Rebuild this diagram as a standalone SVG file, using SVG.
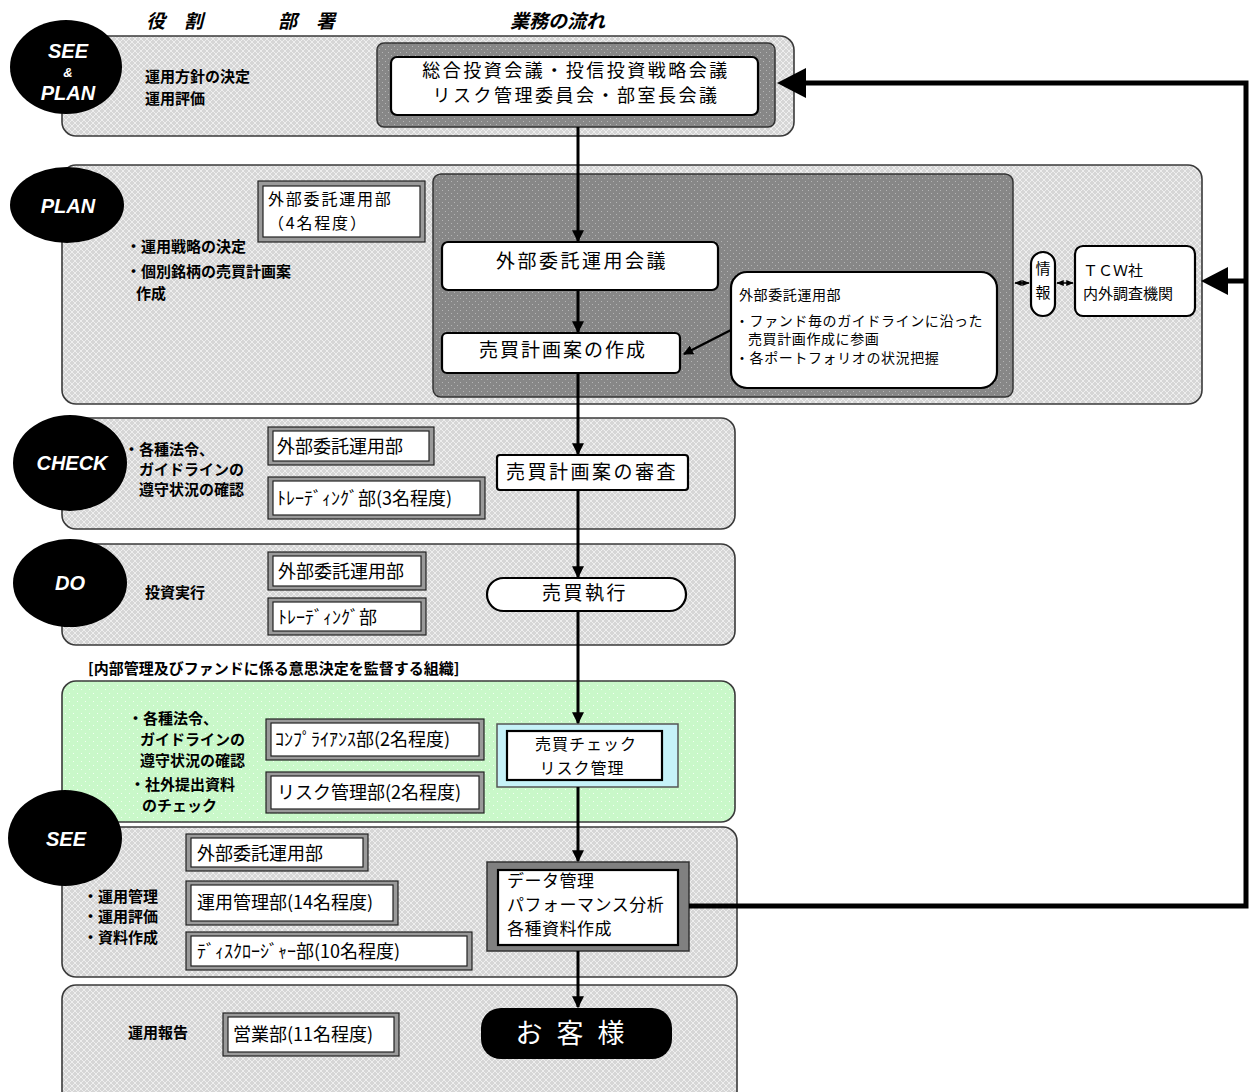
<svg xmlns="http://www.w3.org/2000/svg" width="1252" height="1092" viewBox="0 0 1252 1092">
<style>
.jp{font-family:"Noto Sans CJK JP","Liberation Sans",sans-serif;fill:#000}
.b{font-weight:bold}
.hdr{font-family:"Noto Sans CJK JP",sans-serif;font-size:19px;font-style:italic;font-weight:bold;fill:#000}
.panel{fill:url(#gp);stroke:#3a3a3a;stroke-width:1.6}
.dark{fill:url(#dp);stroke:#333;stroke-width:1.5}
.ell{fill:#000}
.et{font-family:"Liberation Sans",sans-serif;font-weight:bold;font-style:italic;fill:#fff;text-anchor:middle}
.dOut{fill:#9a9a9a;stroke:#222;stroke-width:1.2}
.dIn{fill:#fff;stroke:#222;stroke-width:1.2}
.flow{fill:#fff;stroke:#000;stroke-width:2.2}
.con{stroke:#000;stroke-width:3;fill:none}
.thick{stroke:#000;stroke-width:5;fill:none}
.thin{stroke:#000;stroke-width:1.5;fill:none}
</style>
<defs>
<pattern id="gp" width="6" height="6" patternUnits="userSpaceOnUse">
<rect width="6" height="6" fill="#d6d6d6"/>
<path d="M0 0L6 6M6 0L0 6" stroke="#eeeeee" stroke-width="1"/>
</pattern>
<pattern id="dp" width="6" height="6" patternUnits="userSpaceOnUse">
<rect width="6" height="6" fill="#878787"/>
<rect x="1" y="1" width="1" height="1" fill="#b5b5b5"/>
<rect x="4" y="4" width="1" height="1" fill="#b5b5b5"/>
</pattern>
<pattern id="grp" width="8" height="8" patternUnits="userSpaceOnUse">
<rect width="8" height="8" fill="#c9f8c9"/>
<rect x="1" y="1" width="1" height="1" fill="#f2fff2"/>
<rect x="5" y="5" width="1" height="1" fill="#f2fff2"/>
</pattern>
<marker id="ah" viewBox="0 0 10 10" refX="9" refY="5" markerWidth="4" markerHeight="4" orient="auto">
<path d="M0 0L10 5L0 10z" fill="#000"/>
</marker>
<marker id="sa" viewBox="0 0 10 10" refX="9" refY="5" markerWidth="5" markerHeight="5" orient="auto-start-reverse">
<path d="M0 1L10 5L0 9z" fill="#000"/>
</marker>
</defs>

<rect width="1252" height="1092" fill="#fff"/>

<!-- headers -->
<g id="headers">
<text class="hdr" x="146" y="28">役　割</text>
<text class="hdr" x="278" y="28">部　署</text>
<text class="hdr" x="510" y="28">業務の流れ</text>
</g>

<!-- panels -->
<g id="panels">
<rect class="panel" x="62" y="36" width="732" height="100" rx="14"/>
<rect class="panel" x="62" y="165" width="1140" height="239" rx="14"/>
<rect class="dark" x="433" y="174" width="580" height="223" rx="8"/>
<rect class="panel" x="62" y="418" width="673" height="111" rx="14"/>
<rect class="panel" x="62" y="544" width="673" height="101" rx="14"/>
<rect x="62" y="681" width="673" height="141" rx="14" fill="url(#grp)" stroke="#3a3a3a" stroke-width="1.6"/>
<rect class="panel" x="62" y="827" width="675" height="150" rx="14"/>
<rect class="panel" x="62" y="985" width="675" height="120" rx="14"/>
</g>

<!-- phase ellipses -->
<g id="phase-seeplan">
<ellipse class="ell" cx="66" cy="67" rx="56" ry="47"/>
<text class="et" x="68" y="58" font-size="20">SEE</text>
<text class="et" x="68" y="77" font-size="13">&amp;</text>
<text class="et" x="68" y="100" font-size="20">PLAN</text>
</g>
<g id="phase-plan">
<ellipse class="ell" cx="67" cy="205" rx="57" ry="38"/>
<text class="et" x="68" y="213" font-size="20">PLAN</text>
</g>
<g id="phase-check">
<ellipse class="ell" cx="70" cy="463" rx="57" ry="48"/>
<text class="et" x="72" y="470" font-size="20">CHECK</text>
</g>
<g id="phase-do">
<ellipse class="ell" cx="70" cy="583" rx="57" ry="44"/>
<text class="et" x="70" y="590" font-size="20">DO</text>
</g>
<g id="phase-see">
<ellipse class="ell" cx="65" cy="838" rx="57" ry="48"/>
<text class="et" x="66" y="846" font-size="20">SEE</text>
</g>

<!-- role texts -->
<g id="roles" class="jp b" font-size="15">
<text x="145" y="82">運用方針の決定</text>
<text x="145" y="104">運用評価</text>
<text x="126" y="252">・運用戦略の決定</text>
<text x="126" y="277">・個別銘柄の売買計画案</text>
<text x="136" y="299">作成</text>
<text x="124" y="455">・各種法令、</text>
<text x="139" y="475">ガイドラインの</text>
<text x="139" y="495">遵守状況の確認</text>
<text x="145" y="598">投資実行</text>
<text x="88" y="674">[内部管理及びファンドに係る意思決定を監督する組織]</text>
<text x="128" y="724">・各種法令、</text>
<text x="140" y="745">ガイドラインの</text>
<text x="140" y="766">遵守状況の確認</text>
<text x="130" y="790">・社外提出資料</text>
<text x="142" y="811">のチェック</text>
<text x="83" y="902">・運用管理</text>
<text x="83" y="922">・運用評価</text>
<text x="83" y="943">・資料作成</text>
<text x="128" y="1038">運用報告</text>
</g>

<!-- department boxes -->
<g id="dept-plan">
<rect class="dOut" x="258" y="181" width="167" height="61"/>
<rect class="dIn" x="263" y="186" width="157" height="51"/>
<text class="jp" x="268" y="205" font-size="16" letter-spacing="1.8">外部委託運用部</text>
<text class="jp" x="268" y="229" font-size="16" letter-spacing="1.8">（4名程度）</text>
</g>
<g id="dept-check1">
<rect class="dOut" x="268" y="427" width="166" height="38"/>
<rect class="dIn" x="273" y="431" width="156" height="30"/>
<text class="jp" x="277" y="453" font-size="18">外部委託運用部</text>
</g>
<g id="dept-check2">
<rect class="dOut" x="268" y="477" width="217" height="42"/>
<rect class="dIn" x="273" y="481" width="207" height="34"/>
<text class="jp" x="277" y="505" font-size="18">ﾄﾚｰﾃﾞｨﾝｸﾞ部(3名程度)</text>
</g>
<g id="dept-do1">
<rect class="dOut" x="268" y="552" width="158" height="38"/>
<rect class="dIn" x="273" y="556" width="148" height="30"/>
<text class="jp" x="278" y="578" font-size="18">外部委託運用部</text>
</g>
<g id="dept-do2">
<rect class="dOut" x="268" y="598" width="158" height="37"/>
<rect class="dIn" x="273" y="602" width="148" height="29"/>
<text class="jp" x="278" y="624" font-size="18">ﾄﾚｰﾃﾞｨﾝｸﾞ部</text>
</g>
<g id="dept-compliance">
<rect class="dOut" x="266" y="719" width="218" height="41"/>
<rect class="dIn" x="271" y="723" width="208" height="33"/>
<text class="jp" x="275" y="746" font-size="18">ｺﾝﾌﾟﾗｲｱﾝｽ部(2名程度)</text>
</g>
<g id="dept-risk">
<rect class="dOut" x="266" y="772" width="218" height="41"/>
<rect class="dIn" x="271" y="776" width="208" height="33"/>
<text class="jp" x="277" y="799" font-size="18">リスク管理部(2名程度)</text>
</g>
<g id="dept-see1">
<rect class="dOut" x="186" y="834" width="182" height="37"/>
<rect class="dIn" x="191" y="838" width="172" height="29"/>
<text class="jp" x="197" y="860" font-size="18">外部委託運用部</text>
</g>
<g id="dept-see2">
<rect class="dOut" x="186" y="881" width="212" height="44"/>
<rect class="dIn" x="191" y="885" width="202" height="36"/>
<text class="jp" x="197" y="909" font-size="18">運用管理部(14名程度)</text>
</g>
<g id="dept-see3">
<rect class="dOut" x="186" y="932" width="286" height="38"/>
<rect class="dIn" x="191" y="936" width="276" height="30"/>
<text class="jp" x="197" y="958" font-size="18">ﾃﾞｨｽｸﾛｰｼﾞｬｰ部(10名程度)</text>
</g>
<g id="dept-sales">
<rect class="dOut" x="223" y="1013" width="176" height="43"/>
<rect class="dIn" x="228" y="1017" width="166" height="35"/>
<text class="jp" x="233" y="1041" font-size="18">営業部(11名程度)</text>
</g>

<!-- flow nodes -->
<g id="node-committee">
<rect class="dark" x="377" y="43" width="398" height="84" rx="7"/>
<rect class="flow" x="391" y="57" width="367" height="58" rx="6"/>
<text class="jp" x="576" y="77" font-size="18" text-anchor="middle" letter-spacing="2.5">総合投資会議・投信投資戦略会議</text>
<text class="jp" x="576" y="102" font-size="18" text-anchor="middle" letter-spacing="2.5">リスク管理委員会・部室長会議</text>
</g>
<g id="node-meeting">
<rect class="flow" x="442" y="242" width="276" height="48" rx="6"/>
<text class="jp" x="582" y="268" font-size="19" text-anchor="middle" letter-spacing="2.5">外部委託運用会議</text>
</g>
<g id="node-plan">
<rect class="flow" x="442" y="333" width="238" height="40" rx="5"/>
<text class="jp" x="563" y="357" font-size="19" text-anchor="middle" letter-spacing="2">売買計画案の作成</text>
</g>
<g id="node-callout">
<rect class="flow" x="731" y="272" width="266" height="116" rx="16"/>
<text class="jp" x="739" y="300" font-size="14" letter-spacing="0.6">外部委託運用部</text>
<text class="jp" x="735" y="326" font-size="14" letter-spacing="0.6">・ファンド毎のガイドラインに沿った</text>
<text class="jp" x="748" y="344" font-size="14" letter-spacing="0.6">売買計画作成に参画</text>
<text class="jp" x="735" y="363" font-size="14" letter-spacing="0.6">・各ポートフォリオの状況把握</text>
</g>
<g id="node-info">
<rect class="flow" x="1031" y="252" width="24" height="64" rx="12"/>
<text class="jp" x="1043" y="274" font-size="15" text-anchor="middle">情</text>
<text class="jp" x="1043" y="298" font-size="15" text-anchor="middle">報</text>
</g>
<g id="node-tcw">
<rect class="flow" x="1075" y="246" width="120" height="70" rx="8"/>
<text class="jp" x="1083" y="276" font-size="15">ＴＣＷ社</text>
<text class="jp" x="1083" y="299" font-size="15">内外調査機関</text>
</g>
<g id="node-review">
<rect class="flow" x="497" y="455" width="191" height="35" rx="3"/>
<text class="jp" x="592" y="479" font-size="19" text-anchor="middle" letter-spacing="2.5">売買計画案の審査</text>
</g>
<g id="node-exec">
<rect class="flow" x="487" y="578" width="199" height="33" rx="16.5"/>
<text class="jp" x="585" y="600" font-size="19" text-anchor="middle" letter-spacing="2.5">売買執行</text>
</g>
<g id="node-riskcheck">
<rect x="497" y="724" width="181" height="63" fill="#c6f2f8" stroke="#555" stroke-width="1.5"/>
<rect class="flow" x="507" y="731" width="155" height="49"/>
<text class="jp" x="586" y="750" font-size="16" text-anchor="middle" letter-spacing="1">売買チェック</text>
<text class="jp" x="582" y="774" font-size="16" text-anchor="middle" letter-spacing="1">リスク管理</text>
</g>
<g id="node-data">
<rect x="487" y="862" width="202" height="89" fill="#808080" stroke="#333" stroke-width="1.5"/>
<rect class="flow" x="498" y="870" width="180" height="75"/>
<text class="jp" x="507" y="887" font-size="17" letter-spacing="0.5">データ管理</text>
<text class="jp" x="507" y="911" font-size="17" letter-spacing="0.5">パフォーマンス分析</text>
<text class="jp" x="507" y="935" font-size="17" letter-spacing="0.5">各種資料作成</text>
</g>
<g id="node-customer">
<rect x="481" y="1008" width="191" height="51" rx="20" fill="#000"/>
<text x="577" y="1043" font-size="27" text-anchor="middle" fill="#fff" font-family="Noto Sans CJK JP,sans-serif" letter-spacing="14">お客様</text>
</g>

<!-- connectors -->
<g id="connectors">
<line class="con" x1="578" y1="127" x2="578" y2="241" marker-end="url(#ah)"/>
<line class="con" x1="578" y1="290" x2="578" y2="332" marker-end="url(#ah)"/>
<line class="con" x1="578" y1="373" x2="578" y2="454" marker-end="url(#ah)"/>
<line class="con" x1="578" y1="490" x2="578" y2="577" marker-end="url(#ah)"/>
<line class="con" x1="578" y1="611" x2="578" y2="723" marker-end="url(#ah)"/>
<line class="con" x1="578" y1="787" x2="578" y2="861" marker-end="url(#ah)"/>
<line class="con" x1="578" y1="951" x2="578" y2="1007" marker-end="url(#ah)"/>
<line x1="731" y1="330" x2="684" y2="354" stroke="#000" stroke-width="2.5" marker-end="url(#ah)"/>
<line class="thin" x1="1015" y1="283" x2="1029" y2="283" marker-start="url(#sa)" marker-end="url(#sa)"/>
<line class="thin" x1="1057" y1="283" x2="1073" y2="283" marker-start="url(#sa)" marker-end="url(#sa)"/>
<polyline class="thick" points="689,906 1246,906 1246,83 800,83"/>
<polygon points="777,83 806,68 806,98" fill="#000"/>
<line class="thick" x1="1246" y1="281" x2="1222" y2="281"/>
<polygon points="1201,281 1228,267 1228,295" fill="#000"/>
</g>
</svg>
